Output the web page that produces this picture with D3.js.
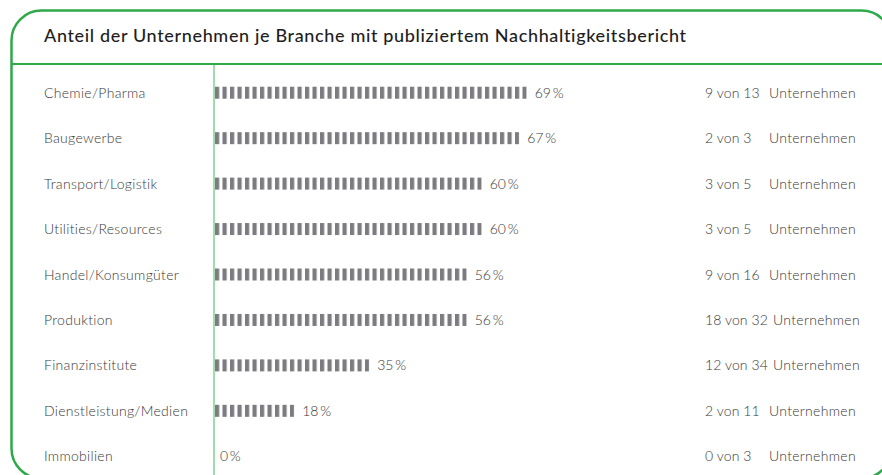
<!DOCTYPE html>
<html>
<head>
<meta charset="utf-8">
<script src="https://cdn.jsdelivr.net/npm/d3@7"></script>
<style>
  html, body { margin: 0; padding: 0; background: #fff; overflow: hidden; }
  svg { display: block; }
  svg text { font-family: "Lato", "Noto Sans", sans-serif; }
</style>
</head>
<body>
<div id="chart"></div>
<script>
// Anteil je Branche
let categories = ['Chemie/Pharma', 'Baugewerbe', 'Transport/Logistik', 'Utilities/Resources', 'Handel/Konsumgüter', 'Produktion', 'Finanzinstitute', 'Dienstleistung/Medien', 'Immobilien'];
let shares = [69, 67, 60, 60, 56, 56, 35, 18, 0];
let reported = [9, 2, 3, 3, 9, 18, 12, 2, 0];
let totals = [13, 3, 5, 5, 16, 32, 34, 11, 3];
let title = 'Anteil der Unternehmen je Branche mit publiziertem Nachhaltigkeitsbericht';

let width = 882, height = 475;
let green = '#2fa84a', lightGreen = '#82d195', barGray = '#7b7b80', textColor = '#383838';
let axisX = 214;
let fs = 14;
//dash layout: one dash plus gap per step
let step = 7.5, dashW = 4.2;

let svg = d3.select('#chart').append('svg').attr('width', width).attr('height', height);

// dash pattern for bars
let defs = svg.append('defs');
let pat = defs.append('pattern').attr('id', 'dash').attr('patternUnits', 'userSpaceOnUse')
    .attr('x', axisX + 1).attr('width', step).attr('height', 20);
pat.append('rect').attr('x', 0).attr('y', 0).attr('width', dashW).attr('height', 20).attr('fill', barGray);

// card frame (runs past the right and bottom edges)
svg.append('rect').attr('x', 11.5).attr('y', 10.5).attr('width', 880).attr('height', 468)
    .attr('rx', 30).attr('ry', 30).attr('fill', 'none').attr('stroke', green).attr('stroke-width', 2.5);
svg.append('line').attr('x1', 11).attr('x2', width).attr('y1', 64).attr('y2', 64)
    .attr('stroke', green).attr('stroke-width', 2);

svg.append('text').attr('x', 44).attr('y', 42).attr('font-size', 18).attr('font-weight', 500)
    .attr('letter-spacing', 0.65)
    .attr('fill', '#1e1e1e').text(title);

// scales
let y = d3.scaleBand().domain(categories).range([70, 479]).padding(0);
let x = d3.scaleLinear().domain([0, 100]).range([axisX, axisX + 455]);

// bar length snapped to whole dashes
function barWidth(v) {
    let n = Math.round((x(v) - axisX) / step);
    return n > 0 ? n * step - (step - dashW) : 0;
}

svg.append('line').attr('x1', axisX).attr('x2', axisX).attr('y1', 65).attr('y2', height)
    .attr('stroke', lightGreen).attr('stroke-width', 1.5);

let rows = svg.selectAll('.row').data(categories).enter().append('g')
    .attr('class', 'row')
    .attr('transform', d => 'translate(0,' + (y(d) + y.bandwidth() / 2) + ')');

rows.append('text').attr('x', 44).attr('dy', '0.36em').attr('font-size', fs).attr('font-weight', 300)
    .attr('letter-spacing', 0.3).attr('fill', textColor).text(d => d);

rows.append('rect')
    .attr('x', axisX + 1)
    .attr('y', -6)
    .attr('height', 12)
    .attr('width', (d, i) => barWidth(shares[i]))
    .attr('fill', 'url(#dash)');

rows.append('text')
    .attr('x', (d, i) => axisX + 1 + barWidth(shares[i]) + (shares[i] > 0 ? 8 : 5))
    .attr('dy', '0.36em').attr('font-size', fs).attr('font-weight', 300).attr('fill', textColor)
    .text((d, i) => shares[i] + '\u2009%');

let vonText = rows.append('text').attr('x', 705).attr('dy', '0.36em').attr('font-size', fs).attr('font-weight', 300)
    .attr('letter-spacing', 0.1).attr('fill', textColor)
    .text((d, i) => reported[i] + ' von ' + totals[i]);
// "Unternehmen" sits at a tab stop, pushed right when the count text is long
rows.append('text')
    .attr('x', function (d, i) {
        let w = vonText.nodes()[i].getComputedTextLength();
        return Math.max(769, 705 + w + 5);
    })
    .attr('dy', '0.36em').attr('font-size', fs).attr('font-weight', 300)
    .attr('letter-spacing', 0.3).attr('fill', textColor).text('Unternehmen');
</script>
</body>
</html>
